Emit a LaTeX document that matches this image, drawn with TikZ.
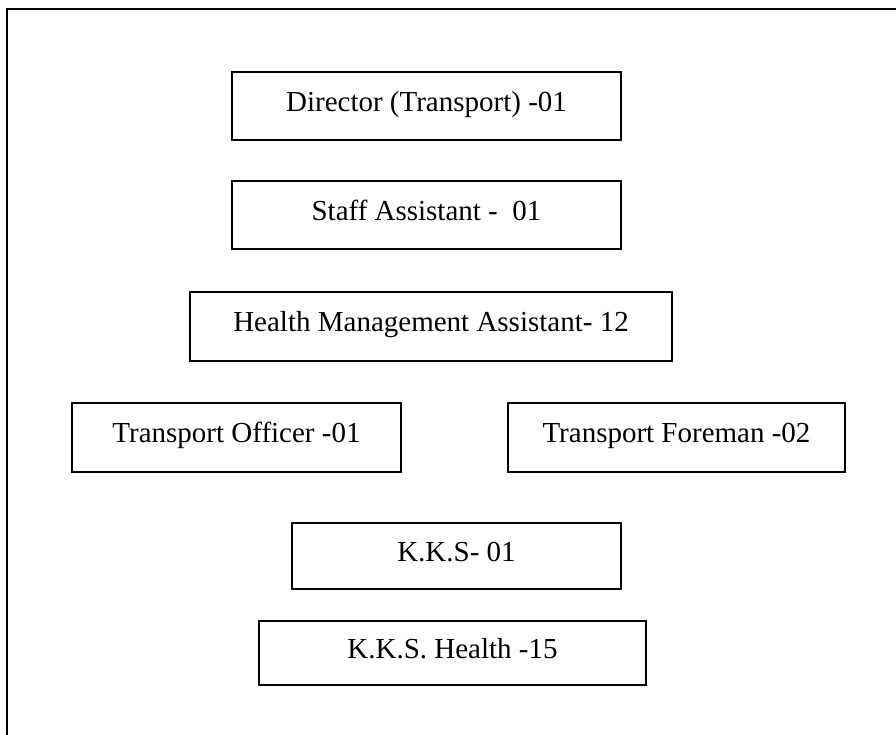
\documentclass[tikz,border=0pt]{standalone}
\usepackage{fontspec}
\setmainfont{Liberation Serif}
\begin{document}
\begin{tikzpicture}[x=1pt,y=-1pt,
  post/.style={draw=black, line width=1.4pt, rectangle, inner sep=0pt,
    font=\fontsize{29}{34}\selectfont, text height=18pt, text depth=8pt},
  frame/.style={draw=black, line width=2.2pt}]
\useasboundingbox (0,0) rectangle (896,734);
\draw[frame] (7,740) -- (7,9) -- (900,9);
\node[post, minimum width=389pt, minimum height=68pt] (dir) at (426.5,106) {Director (Transport) -01};
\node[post, minimum width=389pt, minimum height=68pt] (staff) at (426.5,215) {Staff Assistant -\ \ 01};
\node[post, minimum width=482pt, minimum height=69pt] (hma) at (431,326.5) {Health Management Assistant- 12};
\node[post, minimum width=329pt, minimum height=69pt] (officer) at (236.5,437.5) {Transport Officer -01};
\node[post, minimum width=337pt, minimum height=69pt] (foreman) at (676.5,437.5) {Transport Foreman -02};
\node[post, minimum width=329pt, minimum height=66pt] (kks) at (456.5,556) {K.K.S- 01};
\node[post, minimum width=387pt, minimum height=64pt] (kksh) at (452.5,653) {K.K.S. Health -15};
\end{tikzpicture}
\end{document}
